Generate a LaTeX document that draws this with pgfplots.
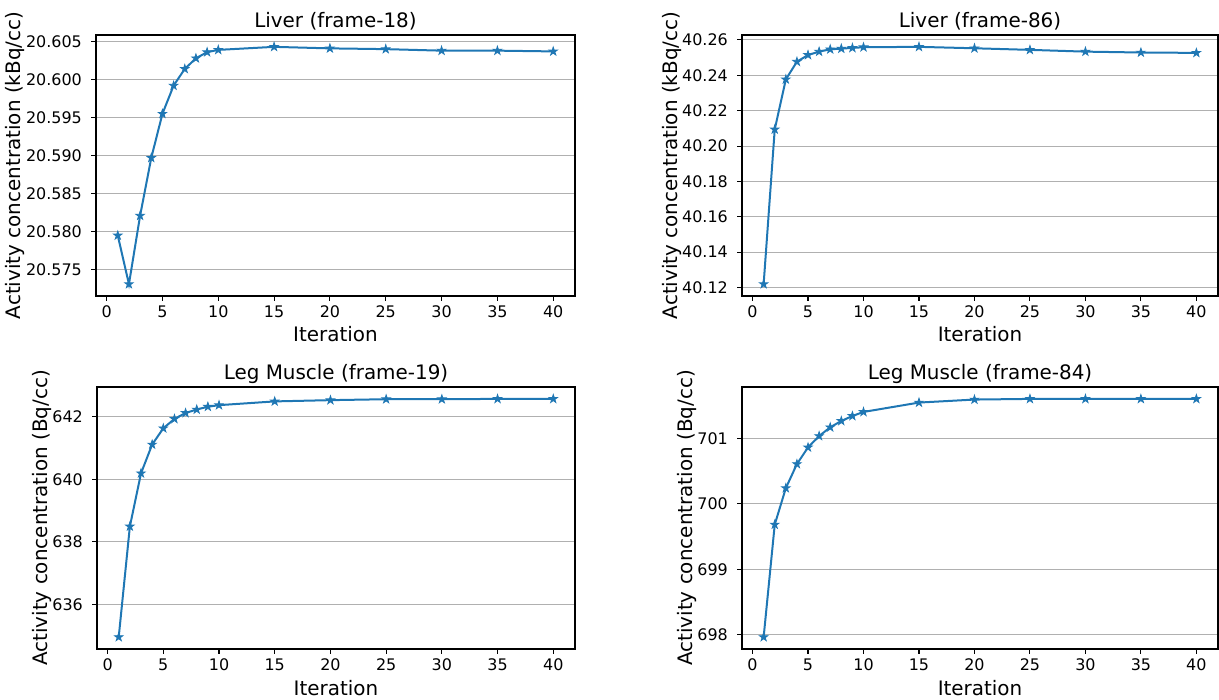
\documentclass[border=0pt]{standalone}
\usepackage{fontspec}
\setmainfont{DejaVu Sans}
\usepackage{pgfplots}
\pgfplotsset{compat=1.18}
\definecolor{mplblue}{HTML}{1F77B4}
\definecolor{gridgray}{HTML}{B0B0B0}
\pgfdeclareplotmark{fstar}{%
  \pgfpathmoveto{\pgfpointpolar{90}{\pgfplotmarksize}}%
  \pgfpathlineto{\pgfpointpolar{126}{0.382\pgfplotmarksize}}%
  \pgfpathlineto{\pgfpointpolar{162}{\pgfplotmarksize}}%
  \pgfpathlineto{\pgfpointpolar{198}{0.382\pgfplotmarksize}}%
  \pgfpathlineto{\pgfpointpolar{234}{\pgfplotmarksize}}%
  \pgfpathlineto{\pgfpointpolar{270}{0.382\pgfplotmarksize}}%
  \pgfpathlineto{\pgfpointpolar{306}{\pgfplotmarksize}}%
  \pgfpathlineto{\pgfpointpolar{342}{0.382\pgfplotmarksize}}%
  \pgfpathlineto{\pgfpointpolar{18}{\pgfplotmarksize}}%
  \pgfpathlineto{\pgfpointpolar{54}{0.382\pgfplotmarksize}}%
  \pgfpathclose
  \pgfusepathqfillstroke}

\pgfplotstableread{
it val
1 20.5795
2 20.5731
3 20.5821
4 20.5897
5 20.5955
6 20.5992
7 20.6014
8 20.6028
9 20.6036
10 20.6039
15 20.6043
20 20.6041
25 20.6040
30 20.6038
35 20.6038
40 20.6037
}\liverA
\pgfplotstableread{
it val
1 40.1219
2 40.2094
3 40.2377
4 40.2477
5 40.2515
6 40.2534
7 40.2547
8 40.2551
9 40.2555
10 40.2559
15 40.2561
20 40.2553
25 40.2544
30 40.2534
35 40.2529
40 40.2527
}\liverB
\pgfplotstableread{
it val
1 634.95
2 638.49
3 640.19
4 641.11
5 641.63
6 641.93
7 642.12
8 642.23
9 642.32
10 642.37
15 642.49
20 642.53
25 642.56
30 642.56
35 642.57
40 642.57
}\legA
\pgfplotstableread{
it val
1 697.964
2 699.683
3 700.240
4 700.608
5 700.862
6 701.036
7 701.169
8 701.266
9 701.342
10 701.404
15 701.547
20 701.593
25 701.603
30 701.603
35 701.603
40 701.603
}\legB

\pgfplotsset{
  panel/.style={
    scale only axis,
    xmin=-0.95, xmax=41.95,
    xtick={0,5,...,40},
    axis line style={black, line width=1.07bp},
    tick style={black, line width=1.07bp},
    major tick length=4.7bp,
    tick align=outside,
    xtick pos=bottom, ytick pos=left,
    ymajorgrids, grid style={gridgray, line width=1.07bp},
    ticklabel style={font=\fontsize{16}{19}\selectfont},
    /pgf/number format/assume math mode=true,
    xticklabel style={anchor=base, inner sep=0pt, yshift=-16.7bp},
    yticklabel style={anchor=east, inner sep=0pt, xshift=-9.3bp},
    every axis title shift=0pt,
    title style={font=\fontsize{20}{24}\selectfont, at={(0.5,1)}, anchor=base, yshift=7.6bp, inner sep=0pt},
    every axis x label/.style={at={(axis description cs:0.5,0)}, anchor=base, yshift=-46bp, inner sep=0pt, font=\fontsize{20}{24}\selectfont},
    xlabel={Iteration},
  },
  ylab/.style={every axis y label/.style={at={(axis description cs:0,0.5)}, xshift=-#1, rotate=90, anchor=base, inner sep=0pt, font=\fontsize{20}{24}\selectfont}},
  series/.style={mplblue, line width=2bp, mark=fstar, mark size=4.4bp, mark options={fill=mplblue, line width=0.8bp, solid}},
}

\begin{document}
\begin{tikzpicture}
\useasboundingbox (0bp,0bp) rectangle (1219bp,700bp);
% top-left
\begin{axis}[panel, at={(96bp,404bp)}, anchor=south west, width=479bp, height=261bp,
  ymin=20.57154, ymax=20.60586,
  ytick={20.575,20.58,20.585,20.59,20.595,20.6,20.605},
  yticklabels={20.575,20.580,20.585,20.590,20.595,20.600,20.605},
  title={Liver (frame-18)}, ylab=75.5bp, ylabel={Activity concentration (kBq/cc)}]
\addplot[series] table[x=it,y=val] {\liverA};
\end{axis}
% top-right
\begin{axis}[panel, at={(742bp,404bp)}, anchor=south west, width=476bp, height=261bp,
  ymin=40.11519, ymax=40.26281,
  ytick={40.12,40.14,40.16,40.18,40.2,40.22,40.24,40.26},
  yticklabels={40.12,40.14,40.16,40.18,40.20,40.22,40.24,40.26},
  title={Liver (frame-86)}, ylab=65bp, ylabel={Activity concentration (kBq/cc)}]
\addplot[series] table[x=it,y=val] {\liverB};
\end{axis}
% bottom-left
\begin{axis}[panel, at={(97bp,51bp)}, anchor=south west, width=478bp, height=262bp,
  ymin=634.569, ymax=642.951,
  ytick={636,638,640,642},
  yticklabels={636,638,640,642},
  title={Leg Muscle (frame-19)}, ylab=50bp, ylabel={Activity concentration (Bq/cc)}]
\addplot[series] table[x=it,y=val] {\legA};
\end{axis}
% bottom-right
\begin{axis}[panel, at={(742bp,51bp)}, anchor=south west, width=476bp, height=262bp,
  ymin=697.782, ymax=701.785,
  ytick={698,699,700,701},
  yticklabels={698,699,700,701},
  title={Leg Muscle (frame-84)}, ylab=50bp, ylabel={Activity concentration (Bq/cc)}]
\addplot[series] table[x=it,y=val] {\legB};
\end{axis}
\end{tikzpicture}
\end{document}
